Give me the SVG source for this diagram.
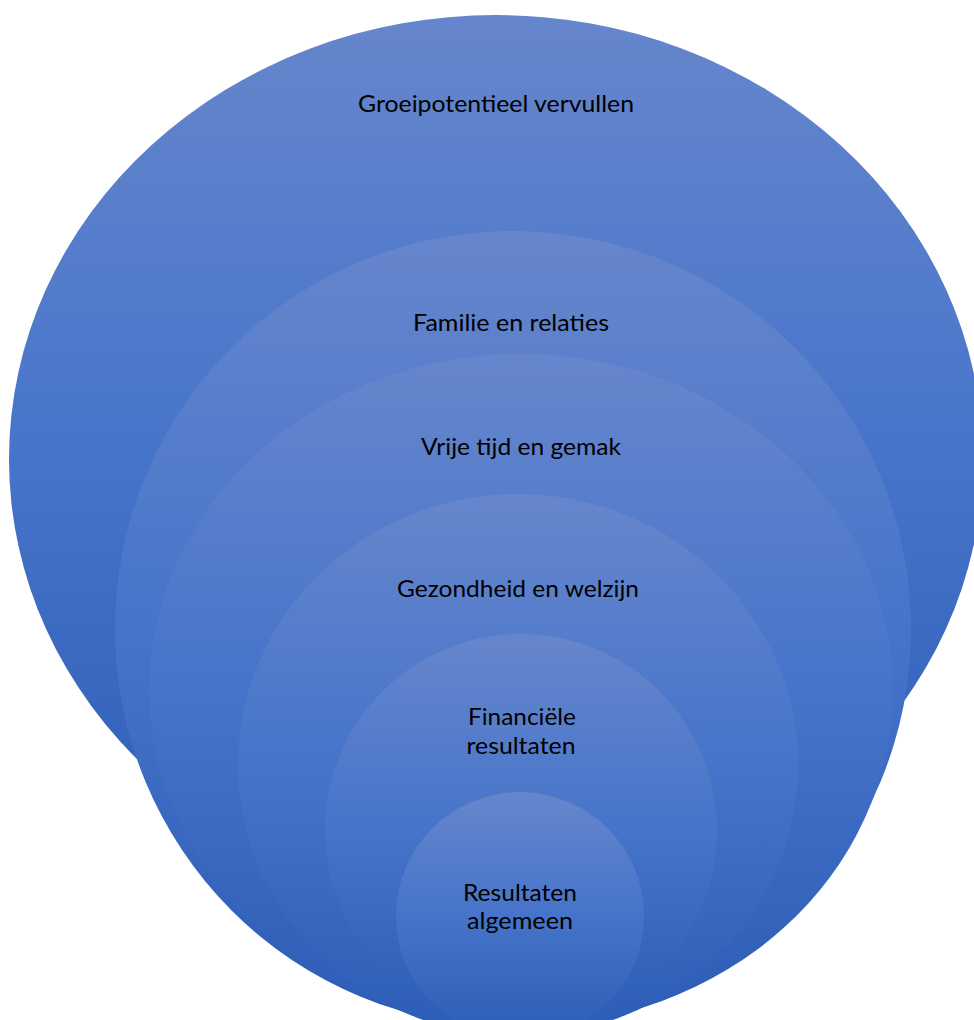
<svg xmlns="http://www.w3.org/2000/svg" width="974" height="1020" viewBox="0 0 974 1020">
<defs>
<linearGradient id="g" x1="0" y1="0" x2="0" y2="1">
<stop offset="0" stop-color="#6686cc"/>
<stop offset="0.5" stop-color="#4674ca"/>
<stop offset="1" stop-color="#2d5cb6"/>
</linearGradient>
<style>
.c{fill:url(#g);}
.t{font-family:"Lato","Open Sans",sans-serif;font-size:24px;fill:#000;text-anchor:middle;}
</style>
</defs>
<rect width="974" height="1020" fill="#fff"/>
<g id="groei">
<ellipse class="c" cx="496" cy="459" rx="487" ry="444"/>
<text class="t" x="496" y="112" textLength="276" lengthAdjust="spacingAndGlyphs">Groeipotentieel vervullen</text>
</g>
<g id="familie">
<circle class="c" cx="513" cy="629" r="398"/>
<text class="t" x="511" y="331" textLength="196" lengthAdjust="spacingAndGlyphs">Familie en relaties</text>
</g>
<g id="vrijetijd">
<ellipse class="c" cx="521" cy="690" rx="372" ry="336"/>
<text class="t" x="521" y="455" textLength="200" lengthAdjust="spacingAndGlyphs">Vrije tijd en gemak</text>
</g>
<g id="gezondheid">
<ellipse class="c" cx="518" cy="765" rx="280" ry="271"/>
<text class="t" x="518" y="597" textLength="242" lengthAdjust="spacingAndGlyphs">Gezondheid en welzijn</text>
</g>
<g id="financieel">
<circle class="c" cx="521" cy="830" r="196"/>
<text class="t" x="522" y="725" textLength="108" lengthAdjust="spacingAndGlyphs">Financiële</text>
<text class="t" x="521" y="754" textLength="109" lengthAdjust="spacingAndGlyphs">resultaten</text>
</g>
<g id="resultaten">
<circle class="c" cx="520" cy="916" r="124"/>
<text class="t" x="520" y="901" textLength="114" lengthAdjust="spacingAndGlyphs">Resultaten</text>
<text class="t" x="520" y="929" textLength="106" lengthAdjust="spacingAndGlyphs">algemeen</text>
</g>
<g id="connectors"/>
</svg>
